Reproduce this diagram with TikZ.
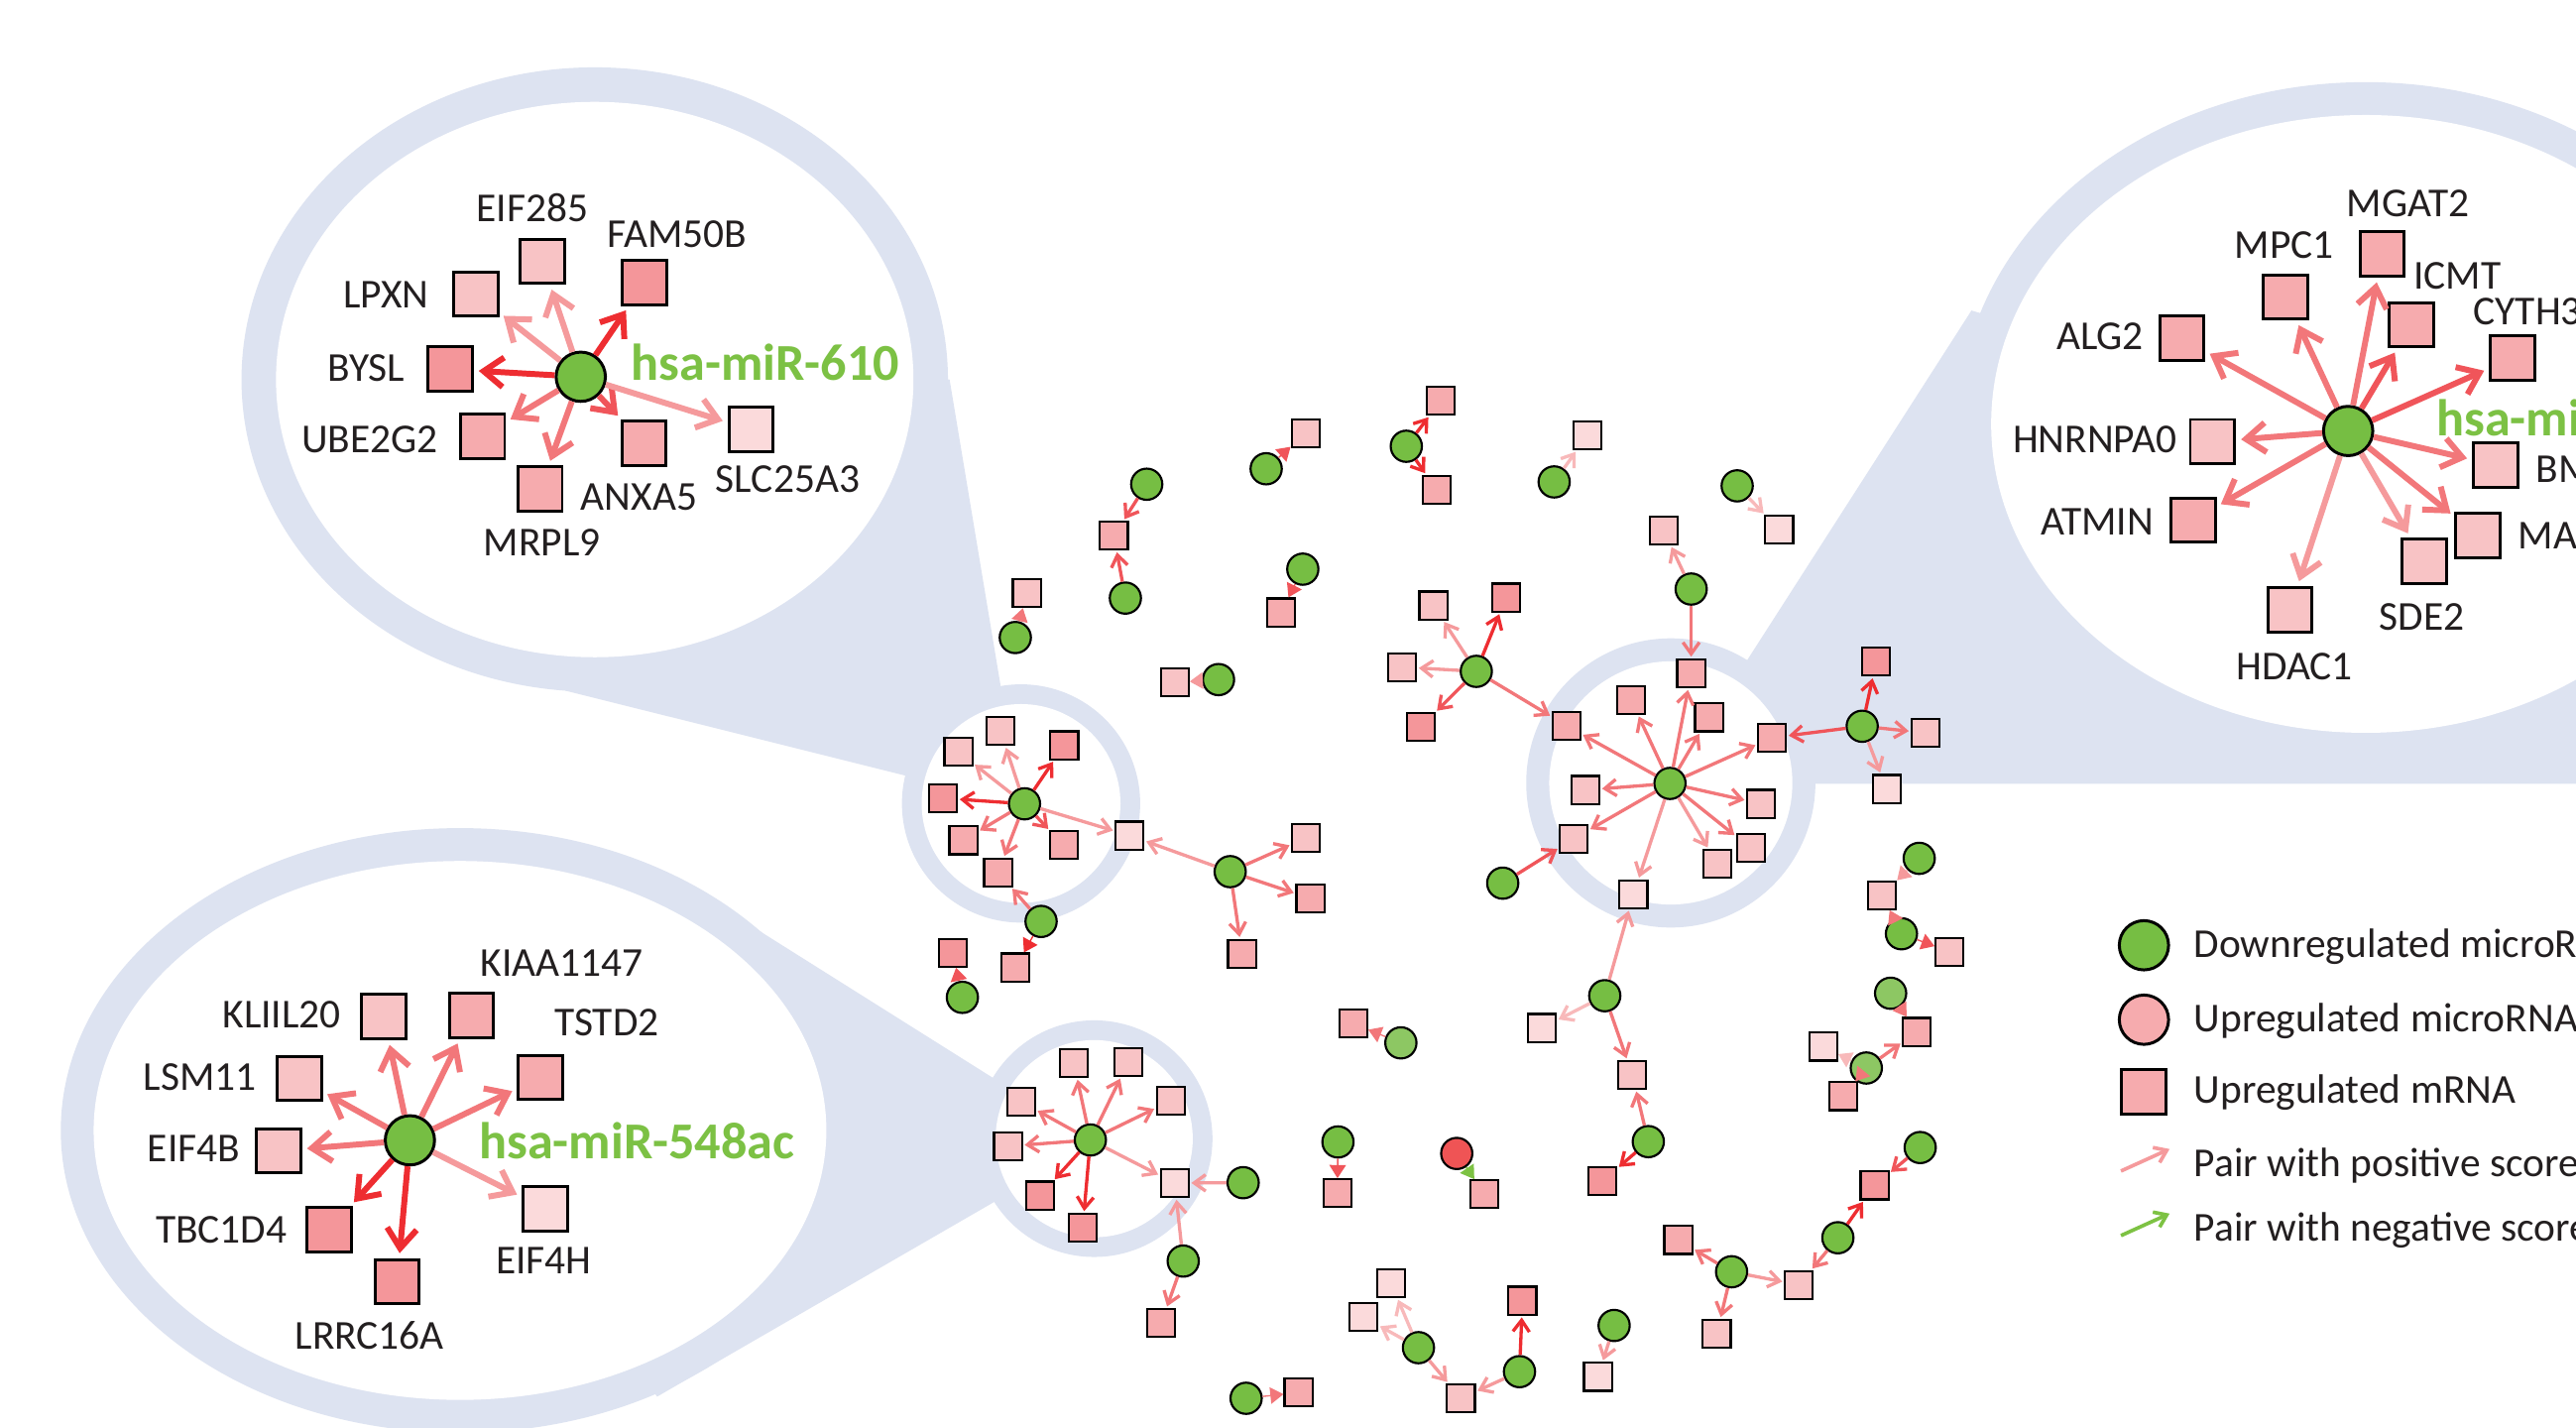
\documentclass[tikz,border=0pt]{standalone}
\usepackage{fontspec}
\setmainfont{Carlito}
\usetikzlibrary{arrows.meta}
\definecolor{cb}{HTML}{DDE3F1}
\definecolor{gcol}{HTML}{76BE43}
\definecolor{glight}{HTML}{8DC763}
\definecolor{redn}{HTML}{EF5455}
\definecolor{sA}{HTML}{F4969A}
\definecolor{sB}{HTML}{F6ABAE}
\definecolor{sC}{HTML}{F8C3C5}
\definecolor{sD}{HTML}{FBDADB}
\definecolor{eA}{HTML}{EE2D31}
\definecolor{eB}{HTML}{F0555A}
\definecolor{eC}{HTML}{F2777A}
\definecolor{eD}{HTML}{F59A9C}
\definecolor{eE}{HTML}{F8B9BA}
\definecolor{txt}{HTML}{231F20}
\definecolor{glab}{HTML}{7CC144}
\definecolor{negc}{HTML}{7DC243}
\tikzset{
 gn/.style={circle,draw=black,line width=1.3pt,fill=#1,minimum size=19pt,inner sep=0pt},
 gn/.default=gcol,
 sq/.style={rectangle,draw=black,line width=1.3pt,fill=#1,minimum size=17pt,inner sep=0pt},
 sq/.default=sB,
 bgn/.style={circle,draw=black,line width=1.8pt,fill=gcol,minimum size=30pt,inner sep=0pt},
 bsq/.style={rectangle,draw=black,line width=1.8pt,fill=#1,minimum size=27pt,inner sep=0pt},
 ne/.style={line width=2pt,draw=#1,-{Straight Barb[length=7pt,width=10pt]},shorten >=1pt},
 be/.style={line width=3.6pt,draw=#1,-{Straight Barb[length=12pt,width=18pt]},shorten >=3pt},
 te/.style={draw=#1,fill=#1,line width=0.8pt,-{Triangle[length=8pt,width=10pt]}},
 lab/.style={text=txt,font=\fontsize{25pt}{30pt}\selectfont,inner sep=0pt},
 glabel/.style={text=glab,font=\fontsize{31.5pt}{36pt}\selectfont\bfseries,inner sep=0pt,anchor=west},
 leg/.style={text=txt,font=\fontsize{25pt}{30pt}\selectfont,inner sep=0pt,anchor=west},
}
\begin{document}
\begin{tikzpicture}[x=1pt,y=-1pt]
\useasboundingbox (0,0) rectangle (1568,869);
\clip (0,0) rectangle (1568,869);
\fill[white] (0,0) rectangle (1568,869);

% ---------- callout backgrounds ----------
\fill[cb] (362,231) ellipse [x radius=215pt, y radius=190pt];
\fill[cb] (621.5,489) circle [radius=72.5pt];
\fill[cb] (578,231) -- (609,417) -- (621.5,489) -- (551,472) -- (344,420.3) -- (362,231) -- cycle;

\fill[cb] (1440,258) ellipse [x radius=248pt, y radius=208pt];
\fill[cb] (1017,476.5) circle [radius=88pt];
\fill[cb] (1064,401) -- (1200,189) -- (1440,258) -- (1600,258) -- (1600,477) -- (1017,477) -- cycle;

\fill[cb] (280,688) ellipse [x radius=243pt, y radius=184pt];
\fill[cb] (666,693) circle [radius=72pt];
\fill[cb] (420,540) -- (603.6,655.5) -- (666,693) -- (605,731.6) -- (400,850) -- (280,688) -- cycle;

\fill[white] (362,231) ellipse [x radius=194pt, y radius=169pt];
\fill[white] (621.5,489) circle [radius=60.5pt];
\fill[white] (1440,258) ellipse [x radius=228pt, y radius=188pt];
\fill[white] (1017,476.5) circle [radius=74pt];
\fill[white] (280,688) ellipse [x radius=223pt, y radius=164pt];
\fill[white] (666,693) circle [radius=60pt];

% ---------- network: top pairs ----------
\node[gn] (t1g) at (698,294.7) {};
\node[sq=sB] (t1s) at (678,326) {};
\node[gn] (t2g) at (685,364) {};
\node[gn] (t3g) at (618,388) {};
\node[sq=sC] (t3s) at (625,361) {};
\node[gn] (t4g) at (770.7,285.3) {};
\node[sq=sC] (t4s) at (794.7,263.7) {};
\node[gn] (t5g) at (856,271.6) {};
\node[sq=sB] (t5a) at (877,244) {};
\node[sq=sB] (t5b) at (874.5,298) {};
\node[gn] (t6g) at (946,293.3) {};
\node[sq=sD] (t6s) at (966.3,265) {};
\node[gn] (t7g) at (1057.4,295.7) {};
\node[sq=sD] (t7s) at (1083,322.3) {};
\node[gn] (t8g) at (793,346.4) {};
\node[sq=sB] (t8s) at (779.6,372.7) {};
\node[gn] (t9g) at (741.7,413.6) {};
\node[sq=sC] (t9s) at (715,415.4) {};
\draw[ne=eB] (t1g) -- (t1s);
\draw[ne=eB] (t2g) -- (t1s);
\draw[te=eC] (t3g) -- (t3s);
\draw[te=eB] (t4g) -- (t4s);
\draw[ne=eA] (t5g) -- (t5a);
\draw[ne=eA] (t5g) -- (t5b);
\draw[ne=eE] (t6g) -- (t6s);
\draw[ne=eE] (t7g) -- (t7s);
\draw[te=eB] (t8g) -- (t8s);
\draw[te=eD] (t9g) -- (t9s);

% ---------- star S ----------
\node[gn] (s0) at (898.6,408.6) {};
\node[sq=sC] (s1) at (872.5,368.5) {};
\node[sq=sA] (s2) at (916.7,363.7) {};
\node[sq=sC] (s3) at (853.4,406) {};
\node[sq=sA] (s4) at (864.8,442.4) {};

% ---------- ring A star ----------
\node[gn] (gA) at (623.6,489.2) {};
\node[sq=sC] (a1) at (583.4,457.6) {};
\node[sq=sC] (a2) at (609,445) {};
\node[sq=sA] (a3) at (647.8,453.6) {};
\node[sq=sA] (a4) at (574,485.8) {};
\node[sq=sB] (a5) at (586.4,511.4) {};
\node[sq=sB] (a6) at (647.4,514.4) {};
\node[sq=sB] (a7) at (607.5,531) {};
\node[sq=sD] (a8) at (687.6,508.5) {};
\node[gn] (gA2) at (748.8,530.5) {};
\node[sq=sC] (a9) at (795,510) {};
\node[sq=sB] (a10) at (797.6,546.8) {};
\node[sq=sB] (a11) at (756,580.4) {};
\node[gn] (gA3) at (633.7,560.8) {};
\node[sq=sB] (a12) at (618.2,588.8) {};
\node[gn] (gA4) at (585.8,607) {};
\node[sq=sA] (a13) at (580,579.8) {};
\draw[ne=eD] (gA) -- (a1);
\draw[ne=eD] (gA) -- (a2);
\draw[ne=eA] (gA) -- (a3);
\draw[ne=eA] (gA) -- (a4);
\draw[ne=eC] (gA) -- (a5);
\draw[ne=eB] (gA) -- (a6);
\draw[ne=eC] (gA) -- (a7);
\draw[ne=eD] (gA) -- (a8);
\draw[ne=eD] (gA2) -- (a8);
\draw[ne=eC] (gA2) -- (a9);
\draw[ne=eC] (gA2) -- (a10);
\draw[ne=eC] (gA2) -- (a11);
\draw[ne=eC] (gA3) -- (a7);
\draw[te=eA] (gA3) -- (a12);
\draw[te=eB] (gA4) -- (a13);

% ---------- ring C star ----------
\node[gn] (gC) at (663.7,693.8) {};
\node[sq=sC] (c1) at (653.7,647) {};
\node[sq=sC] (c2) at (686.8,646.4) {};
\node[sq=sC] (c3) at (621.6,670.5) {};
\node[sq=sC] (c4) at (712.6,670) {};
\node[sq=sC] (c5) at (613.5,697.6) {};
\node[sq=sA] (c6) at (633,727.6) {};
\node[sq=sA] (c7) at (659,747.3) {};
\node[sq=sD] (c8) at (715,720) {};
\node[gn] (gC2) at (756.7,719.8) {};
\node[gn] (gC3) at (720.2,767.5) {};
\node[sq=sB] (c9) at (706.8,805.2) {};
\draw[ne=eC] (gC) -- (c1);
\draw[ne=eC] (gC) -- (c2);
\draw[ne=eC] (gC) -- (c3);
\draw[ne=eC] (gC) -- (c4);
\draw[ne=eC] (gC) -- (c5);
\draw[ne=eA] (gC) -- (c6);
\draw[ne=eA] (gC) -- (c7);
\draw[ne=eD] (gC) -- (c8);
\draw[ne=eD] (gC2) -- (c8);
\draw[ne=eD] (gC3) -- (c8);
\draw[ne=eC] (gC3) -- (c9);

% ---------- ring B star ----------
\node[gn] (gB) at (1016.5,476.8) {};
\node[sq=sB] (b1) at (1029.4,409.8) {};
\node[sq=sB] (b2) at (953.5,441.6) {};
\node[sq=sB] (b3) at (992.8,426) {};
\node[sq=sB] (b4) at (1040.2,436.6) {};
\node[sq=sB] (b5) at (1078.6,449) {};
\node[sq=sC] (b6) at (965,480.8) {};
\node[sq=sC] (b7) at (958,510.4) {};
\node[sq=sC] (b8) at (1072,489.2) {};
\node[sq=sC] (b9) at (1065.7,516.2) {};
\node[sq=sC] (b10) at (1045.4,525.8) {};
\node[sq=sD] (b11) at (994.3,544.2) {};
\draw[ne=eC] (gB) -- (b1);
\draw[ne=eC] (gB) -- (b2);
\draw[ne=eC] (gB) -- (b3);
\draw[ne=eC] (gB) -- (b4);
\draw[ne=eC] (gB) -- (b5);
\draw[ne=eC] (gB) -- (b6);
\draw[ne=eC] (gB) -- (b7);
\draw[ne=eC] (gB) -- (b8);
\draw[ne=eC] (gB) -- (b9);
\draw[ne=eD] (gB) -- (b10);
\draw[ne=eD] (gB) -- (b11);
\draw[ne=eD] (s0) -- (s1);
\draw[ne=eA] (s0) -- (s2);
\draw[ne=eD] (s0) -- (s3);
\draw[ne=eB] (s0) -- (s4);
\draw[ne=eC] (s0) -- (b2);

\node[gn] (u1g) at (1029.4,358.5) {};
\node[sq=sC] (u1s) at (1012.7,322.9) {};
\draw[ne=eD] (u1g) -- (u1s);
\draw[ne=eC] (u1g) -- (b1);

\node[gn] (r1g) at (1133.5,442) {};
\node[sq=sA] (r1a) at (1142,402.7) {};
\node[sq=sC] (r1b) at (1172,446) {};
\node[sq=sD] (r1c) at (1148.4,480.2) {};
\draw[ne=eA] (r1g) -- (r1a);
\draw[ne=eC] (r1g) -- (r1b);
\draw[ne=eD] (r1g) -- (r1c);
\draw[ne=eB] (r1g) -- (b5);

\node[gn] (l1g) at (914.7,537.5) {};
\draw[ne=eB] (l1g) -- (b7);

\node[gn] (d1g) at (976.8,606) {};
\node[sq=sD] (d1a) at (938.6,625.6) {};
\node[sq=sC] (d1b) at (993.6,654.2) {};
\draw[ne=eD] (d1g) -- (b11);
\draw[ne=eE] (d1g) -- (d1a);
\draw[ne=eC] (d1g) -- (d1b);
\node[gn] (d2g) at (1003.3,694.8) {};
\node[sq=sA] (d2a) at (975.5,718.7) {};
\draw[ne=eC] (d2g) -- (d1b);
\draw[ne=eA] (d2g) -- (d2a);

% ---------- right cluster ----------
\node[gn] (k1g) at (1168.2,522.4) {};
\node[sq=sC] (k1s) at (1145.6,544.8) {};
\node[gn] (k2g) at (1157.4,568.3) {};
\node[sq=sC] (k2s) at (1186.7,579.3) {};
\draw[te=eD] (k1g) -- (k1s);
\draw[te=eC] (k2g) -- (k1s);
\draw[te=eB] (k2g) -- (k2s);
\node[gn=glight] (k3g) at (1150.8,604.5) {};
\node[sq=sB] (k3s) at (1166.8,628) {};
\node[gn=glight] (k4g) at (1136,650) {};
\node[sq=sD] (k4a) at (1109.8,637) {};
\node[sq=sB] (k4b) at (1122,667.2) {};
\draw[te=eC] (k3g) -- (k3s);
\draw[ne=eC] (k4g) -- (k3s);
\draw[te=eE] (k4g) -- (k4a);
\draw[te=eC] (k4g) -- (k4b);
\node[gn] (k5g) at (1168.8,698.4) {};
\node[sq=sA] (k5s) at (1141,721.5) {};
\node[gn] (k6g) at (1118.7,753.3) {};
\node[sq=sC] (k6s) at (1095,782) {};
\draw[ne=eB] (k5g) -- (k5s);
\draw[ne=eA] (k6g) -- (k5s);
\draw[ne=eC] (k6g) -- (k6s);
\node[gn] (k7g) at (1054,774) {};
\node[sq=sB] (k7a) at (1021.5,754.7) {};
\node[sq=sC] (k7b) at (1045,811.7) {};
\draw[ne=eD] (k7g) -- (k6s);
\draw[ne=eC] (k7g) -- (k7a);
\draw[ne=eC] (k7g) -- (k7b);
\node[gn] (k8g) at (982.5,806.7) {};
\node[sq=sD] (k8s) at (972.6,838) {};
\draw[ne=eD] (k8g) -- (k8s);

% ---------- bottom middle ----------
\node[sq=sB] (m1s) at (823.7,623) {};
\node[gn=glight] (m1g) at (852.7,634.7) {};
\draw[te=eC] (m1g) -- (m1s);
\node[gn] (m2g) at (814.4,695) {};
\node[sq=sB] (m2s) at (814,726.2) {};
\draw[te=eB] (m2g) -- (m2s);
\node[gn=redn] (m3g) at (886.7,702) {};
\node[sq=sB] (m3s) at (903.6,726.8) {};
\draw[te=negc] (m3g) -- (m3s);
\node[gn] (m4g) at (863.4,820.2) {};
\node[sq=sD] (m4a) at (846.7,781) {};
\node[sq=sD] (m4b) at (830,801.6) {};
\node[sq=sC] (m4c) at (889.3,851) {};
\draw[ne=eE] (m4g) -- (m4a);
\draw[ne=eE] (m4g) -- (m4b);
\draw[ne=eD] (m4g) -- (m4c);
\node[gn] (m5g) at (924.9,834.8) {};
\node[sq=sA] (m5s) at (926.7,791.6) {};
\draw[ne=eD] (m5g) -- (m4c);
\draw[ne=eA] (m5g) -- (m5s);
\node[gn] (m6g) at (758.5,851) {};
\node[sq=sB] (m6s) at (790.4,847.5) {};
\draw[te=eC] (m6g) -- (m6s);

% ---------- callout A content ----------
\node[bgn] (mA) at (353.5,229.3) {};
\node[bsq=sC] (A1) at (330,159) {};
\node[bsq=sA] (A2) at (392.5,172) {};
\node[bsq=sC] (A3) at (289.7,179) {};
\node[bsq=sA] (A4) at (274,224.7) {};
\node[bsq=sB] (A5) at (293.7,265.5) {};
\node[bsq=sB] (A6) at (328.7,297.7) {};
\node[bsq=sB] (A7) at (392,269.6) {};
\node[bsq=sD] (A8) at (457.2,261.5) {};
\draw[be=eD] (mA) -- (A1);
\draw[be=eA] (mA) -- (A2);
\draw[be=eD] (mA) -- (A3);
\draw[be=eA] (mA) -- (A4);
\draw[be=eC] (mA) -- (A5);
\draw[be=eC] (mA) -- (A6);
\draw[be=eB] (mA) -- (A7);
\draw[be=eD] (mA) -- (A8);
\node[lab] (lA1) at (324,126.7) {EIF285};
\node[lab] (lA2) at (412,142.8) {FAM50B};
\node[lab] (lA3) at (235,179.6) {LPXN};
\node[lab] (lA4) at (223,224.3) {BYSL};
\node[lab] (lA5) at (225,267.5) {UBE2G2};
\node[lab] (lA6) at (330,330) {MRPL9};
\node[lab] (lA7) at (389,302.8) {ANXA5};
\node[lab] (lA8) at (479.5,291.7) {SLC25A3};
\node[glabel] (gA0) at (384,220.3) {hsa-miR-610};

% ---------- callout B content ----------
\node[bgn] (mB) at (1429.3,262.3) {};
\node[bsq=sB] (B1) at (1450,154.5) {};
\node[bsq=sB] (B2) at (1391.2,180.8) {};
\node[bsq=sB] (B3) at (1467.8,197.6) {};
\node[bsq=sB] (B4) at (1529.2,218) {};
\node[bsq=sB] (B5) at (1328,205.8) {};
\node[bsq=sC] (B6) at (1346.7,268.8) {};
\node[bsq=sB] (B7) at (1334.8,316.6) {};
\node[bsq=sC] (B8) at (1393.8,371) {};
\node[bsq=sC] (B9) at (1475.6,341.6) {};
\node[bsq=sC] (B10) at (1508.4,326) {};
\node[bsq=sC] (B11) at (1519,283) {};
\draw[be=eC] (mB) -- (B1);
\draw[be=eC] (mB) -- (B2);
\draw[be=eB] (mB) -- (B3);
\draw[be=eB] (mB) -- (B4);
\draw[be=eC] (mB) -- (B5);
\draw[be=eC] (mB) -- (B6);
\draw[be=eC] (mB) -- (B7);
\draw[be=eD] (mB) -- (B8);
\draw[be=eD] (mB) -- (B9);
\draw[be=eC] (mB) -- (B10);
\draw[be=eC] (mB) -- (B11);
\node[lab] (lB1) at (1465.7,123.7) {MGAT2};
\node[lab] (lB2) at (1390.5,149.2) {MPC1};
\node[lab] (lB3) at (1495.8,167.7) {ICMT};
\node[lab,anchor=west] (lB4) at (1505.4,189.5) {CYTH3};
\node[lab] (lB5) at (1278.3,205) {ALG2};
\node[lab] (lB6) at (1275,267.7) {HNRNPA0};
\node[lab] (lB7) at (1276.5,317.7) {ATMIN};
\node[lab] (lB8) at (1396.7,405.5) {HDAC1};
\node[lab] (lB9) at (1474.3,375.5) {SDE2};
\node[lab,anchor=west] (lB10) at (1532.7,326) {MA};
\node[lab,anchor=west] (lB11) at (1543.4,285.5) {BM};
\node[glabel] (gB0) at (1482.8,254.3) {hsa-mi};

% ---------- callout C content ----------
\node[bgn] (mC) at (249.5,694) {};
\node[bsq=sC] (C1) at (233.5,618.6) {};
\node[bsq=sB] (C2) at (287,618) {};
\node[bsq=sB] (C3) at (328.9,655.8) {};
\node[bsq=sC] (C4) at (182.2,656.4) {};
\node[bsq=sC] (C5) at (169.5,700.4) {};
\node[bsq=sA] (C6) at (200.4,748.3) {};
\node[bsq=sA] (C7) at (241.7,780.1) {};
\node[bsq=sD] (C8) at (331.8,735.7) {};
\draw[be=eC] (mC) -- (C1);
\draw[be=eC] (mC) -- (C2);
\draw[be=eC] (mC) -- (C3);
\draw[be=eC] (mC) -- (C4);
\draw[be=eC] (mC) -- (C5);
\draw[be=eA] (mC) -- (C6);
\draw[be=eA] (mC) -- (C7);
\draw[be=eD] (mC) -- (C8);
\node[lab] (lC1) at (171.5,617.6) {KLIIL20};
\node[lab] (lC2) at (341.9,586.4) {KIAA1147};
\node[lab] (lC3) at (369.3,622.6) {TSTD2};
\node[lab] (lC4) at (121.8,655.8) {LSM11};
\node[lab] (lC5) at (118,699) {EIF4B};
\node[lab] (lC6) at (134.8,748.7) {TBC1D4};
\node[lab] (lC7) at (225,812.7) {LRRC16A};
\node[lab] (lC8) at (330.9,767.5) {EIF4H};
\node[glabel] (gC0) at (291.4,694) {hsa-miR-548ac};

% ---------- legend ----------
\node[circle,draw=black,line width=1.8pt,fill=gcol,minimum size=30pt,inner sep=0pt] (lg1) at (1305,575.3) {};
\node[circle,draw=black,line width=1.8pt,fill=sB,minimum size=30pt,inner sep=0pt] (lg2) at (1305,620.6) {};
\node[bsq=sB] (lg3) at (1305,664.4) {};
\coordinate (la1) at (1291,712.7);
\coordinate (lb1) at (1320.6,699.3);
\coordinate (la2) at (1291,752);
\coordinate (lb2) at (1320.6,738.6);
\draw[line width=2.2pt,draw=eD,-{Straight Barb[length=7pt,width=10pt]}] (la1) -- (lb1);
\draw[line width=2.2pt,draw=negc,-{Straight Barb[length=7pt,width=10pt]}] (la2) -- (lb2);
\node[leg] (lt1) at (1335.3,576) {Downregulated microRNA};
\node[leg] (lt2) at (1335.3,621.6) {Upregulated microRNA};
\node[leg] (lt3) at (1335.3,665) {Upregulated mRNA};
\node[leg] (lt4) at (1335.3,709.6) {Pair with positive score};
\node[leg] (lt5) at (1335.3,748.9) {Pair with negative score};
\end{tikzpicture}
\end{document}
